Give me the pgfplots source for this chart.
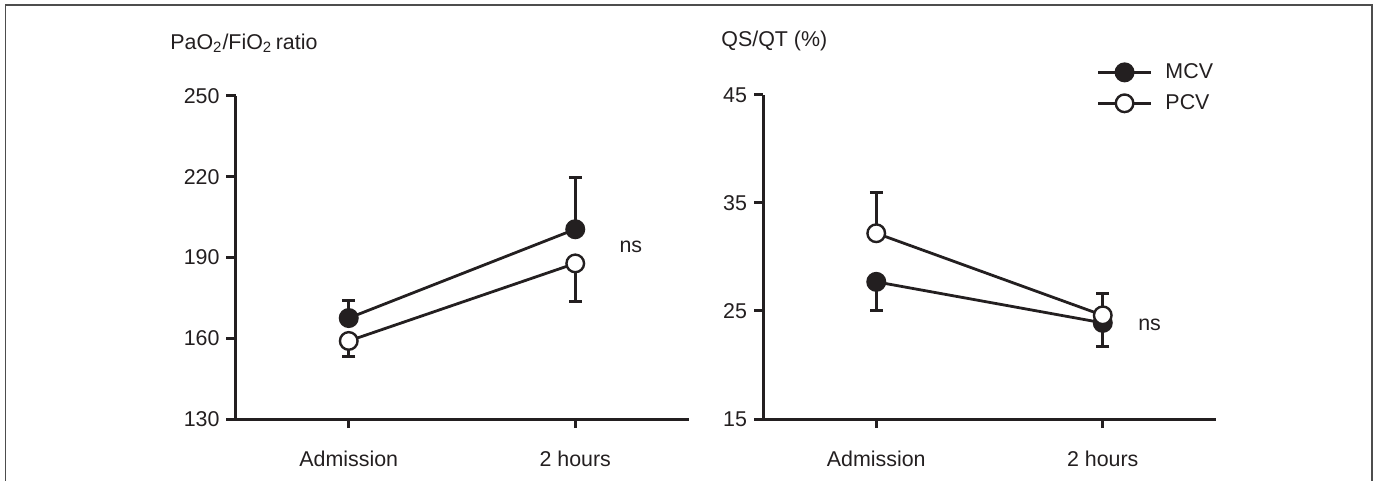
\documentclass[border=0pt]{standalone}
\usepackage{pgfplots}
\pgfplotsset{compat=1.18}
\usepackage{fontspec}
\setmainfont{Liberation Sans}
\definecolor{ink}{HTML}{231F20}
\definecolor{frame}{HTML}{4D4D4D}
\newcommand{\fs}{\fontsize{10.7bp}{12.8bp}\selectfont}
\pgfplotsset{
 myaxis/.style={
  scale only axis,
  axis x line*=bottom, axis y line*=left,
  axis line style={line width=1.5bp, draw=ink},
  xmin=-0.5, xmax=1.5,
  xtick={0,1}, xticklabels={Admission, 2 hours},
  tick style={line width=1.5bp, draw=ink},
  major tick length=4.5bp,
  tick align=outside,
  ticklabel style={font=\fs, text=ink},
  xticklabel style={yshift=-8bp},
  /pgf/number format/assume math mode=true,
  clip=false,
  legend image code/.code={\draw[mark repeat=2,mark phase=2,##1] plot coordinates {(0bp,0bp) (13.25bp,0bp) (26.5bp,0bp)};},
 },
 errp/.style={only marks, mark=none, forget plot,
   error bars/.cd, y dir=#1, y explicit,
   error bar style={line width=1.5bp, draw=ink, solid},
   error mark options={rotate=90, mark size=3.25bp, line width=1.5bp, draw=ink}},
 mcv/.style={line width=1.4bp, draw=ink, mark=*, mark size=4.4bp, mark options={line width=1.2bp, draw=ink, fill=ink}},
 pcv/.style={line width=1.4bp, draw=ink, mark=*, mark size=4.4bp, mark options={line width=1.2bp, draw=ink, fill=white}},
}
\begin{document}
\begin{tikzpicture}
\useasboundingbox (0,0) rectangle (689bp,240.5bp);
\draw[frame, line width=0.9bp] (2.75bp,-20bp) -- (2.75bp,238bp) -- (686bp,238bp) -- (686bp,-20bp);
\node[anchor=west, font=\fs, text=ink, inner sep=0pt] at (85bp,219bp) {PaO\textsubscript{2}/FiO\textsubscript{2}\,ratio};
\node[anchor=west, font=\fs, text=ink, inner sep=0pt] at (360.5bp,220bp) {QS/QT (\%)};
% left panel
\begin{axis}[myaxis, at={(117.75bp,31bp)}, anchor=south west,
  width=226.5bp, height=161.5bp,
  ymin=130, ymax=250, ytick={130,160,190,220,250}]
\addplot[errp=plus] coordinates {(0,167.5) +- (0,6.4) (1,200.5) +- (0,19.4)};
\addplot[errp=minus] coordinates {(0,159.0) +- (0,5.6) (1,187.8) +- (0,14.0)};
\addplot[mcv] coordinates {(0,167.5) (1,200.5)};
\addplot[pcv] coordinates {(0,159.0) (1,187.8)};
\node[anchor=west, font=\fs, text=ink, inner sep=0pt] at (axis cs:1.194,193.9) {ns};
\end{axis}
% right panel
\begin{axis}[myaxis, at={(381.5bp,31bp)}, anchor=south west,
  width=226.5bp, height=162bp,
  ymin=15, ymax=45, ytick={15,25,35,45},
  legend style={at={(rel axis cs:0.7357,1.108)}, anchor=north west, draw=none, fill=none,
    inner sep=0pt, font=\fs, text=ink, row sep=3.5bp,
    nodes={inner sep=1.5bp},
    /tikz/every odd column/.style={column sep=5bp}},
  legend cell align=left]
\addplot[errp=minus] coordinates {(0,27.7) +- (0,2.7) (1,23.9) +- (0,2.2)};
\addplot[errp=plus] coordinates {(0,32.2) +- (0,3.8) (1,24.6) +- (0,2.0)};
\addplot[mcv] coordinates {(0,27.7) (1,23.9)};
\addplot[pcv] coordinates {(0,32.2) (1,24.6)};
\legend{MCV, PCV}
\node[anchor=west, font=\fs, text=ink, inner sep=0pt] at (axis cs:1.155,23.7) {ns};
\end{axis}
\end{tikzpicture}
\end{document}
